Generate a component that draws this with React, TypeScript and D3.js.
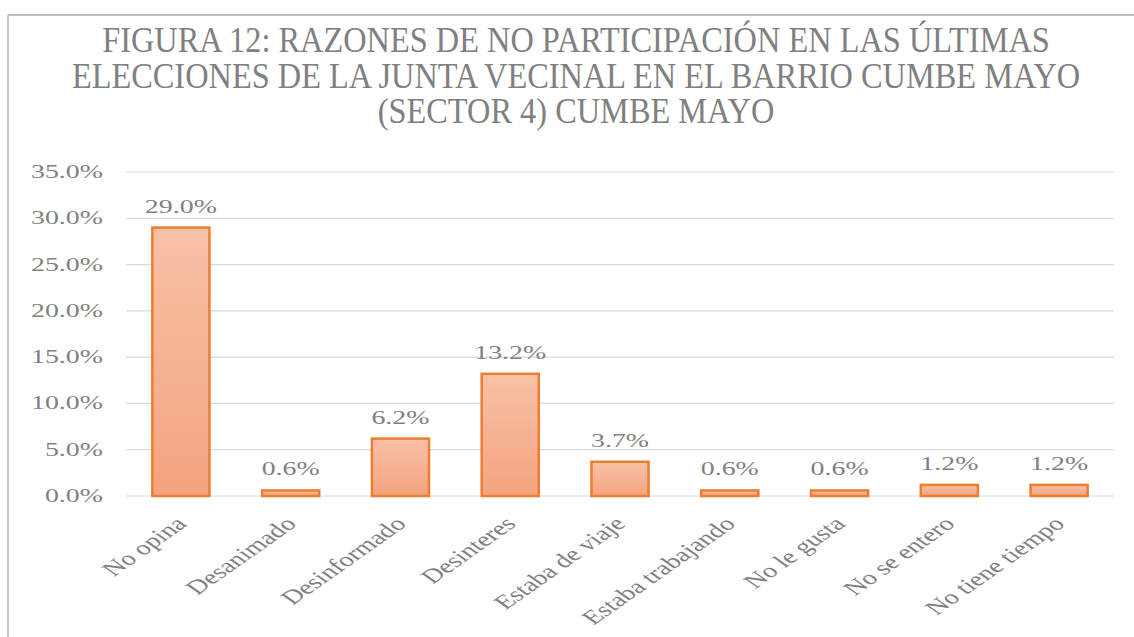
import React from "react";
import * as d3 from "d3";

const categories = [
  "No opina",
  "Desanimado",
  "Desinformado",
  "Desinteres",
  "Estaba de viaje",
  "Estaba trabajando",
  "No le gusta",
  "No se entero",
  "No tiene tiempo",
];
const values = [29.0, 0.6, 6.2, 13.2, 3.7, 0.6, 0.6, 1.2, 1.2];
const yTicks = [0, 5, 10, 15, 20, 25, 30, 35];
const titleLines = [
  "FIGURA 12: RAZONES DE NO PARTICIPACIÓN EN LAS ÚLTIMAS",
  "ELECCIONES DE LA JUNTA VECINAL EN EL BARRIO CUMBE MAYO",
  "(SECTOR 4) CUMBE MAYO",
];

const W = 1134;
const H = 637;
const plot = { left: 126, right: 1114, top: 172, bottom: 496 };
const FONT = "'Liberation Serif', 'Times New Roman', serif";
const TEXT = "#808080";
const SX = 1.55;
const SXC = 1.42;

export default function App() {
  const x = d3
    .scaleBand<string>()
    .domain(categories)
    .range([plot.left, plot.right])
    .paddingInner(0.48)
    .paddingOuter(0.24);
  const y = d3.scaleLinear().domain([0, 35]).range([plot.bottom, plot.top]);
  const cx = (c: string) => (x(c) as number) + x.bandwidth() / 2;

  return (
    <svg
      width={W}
      height={H}
      style={{ position: "absolute", left: 0, top: 0, background: "#fff" }}
      fontFamily={FONT}
    >
      <defs>
        <linearGradient id="barGrad" x1="0" y1="0" x2="0" y2="1">
          <stop offset="0%" stopColor="#f8c1a6" />
          <stop offset="100%" stopColor="#f4a37e" />
        </linearGradient>
      </defs>
      <rect x={0} y={0} width={W} height={H} fill="#fff" />
      {/* frame */}
      <line x1={8} x2={W} y1={15} y2={15} stroke="#bfbfbf" strokeWidth={2} />
      <line x1={8} x2={8} y1={15} y2={H} stroke="#c8c8c8" strokeWidth={2} />

      {/* title */}
      {titleLines.map((t, i) => (
        <text
          key={i}
          transform={`translate(${576},${52 + i * 35.5}) scale(0.925,1)`}
          textAnchor="middle"
          fontSize={35}
          fill={TEXT}
        >
          {t}
        </text>
      ))}

      {/* gridlines */}
      {yTicks.map((t) => (
        <g key={t}>
          <line
            x1={plot.left}
            x2={plot.right}
            y1={y(t)}
            y2={y(t)}
            stroke="#d9d9d9"
            strokeWidth={1.2}
          />
          <text
            transform={`translate(103,${y(t) + 6}) scale(${SX},1)`}
            textAnchor="end"
            fontSize={18}
            fill={TEXT}
          >
            {t.toFixed(1) + "%"}
          </text>
        </g>
      ))}

      {/* bars */}
      {categories.map((c, i) => (
        <g key={c}>
          <rect
            x={x(c)}
            y={y(values[i])}
            width={x.bandwidth()}
            height={y(0) - y(values[i])}
            fill="url(#barGrad)"
            stroke="#ed7d31"
            strokeWidth={2.5}
          />
          <text
            transform={`translate(${cx(c)},${y(values[i]) - 15}) scale(${SX},1)`}
            textAnchor="middle"
            fontSize={18}
            fill={TEXT}
          >
            {values[i].toFixed(1) + "%"}
          </text>
          <text
            transform={`translate(${cx(c) + 7},${plot.bottom + 29}) scale(${SXC},1) rotate(-45)`}
            textAnchor="end"
            fontSize={20}
            fill={TEXT}
          >
            {c}
          </text>
        </g>
      ))}
    </svg>
  );
}
